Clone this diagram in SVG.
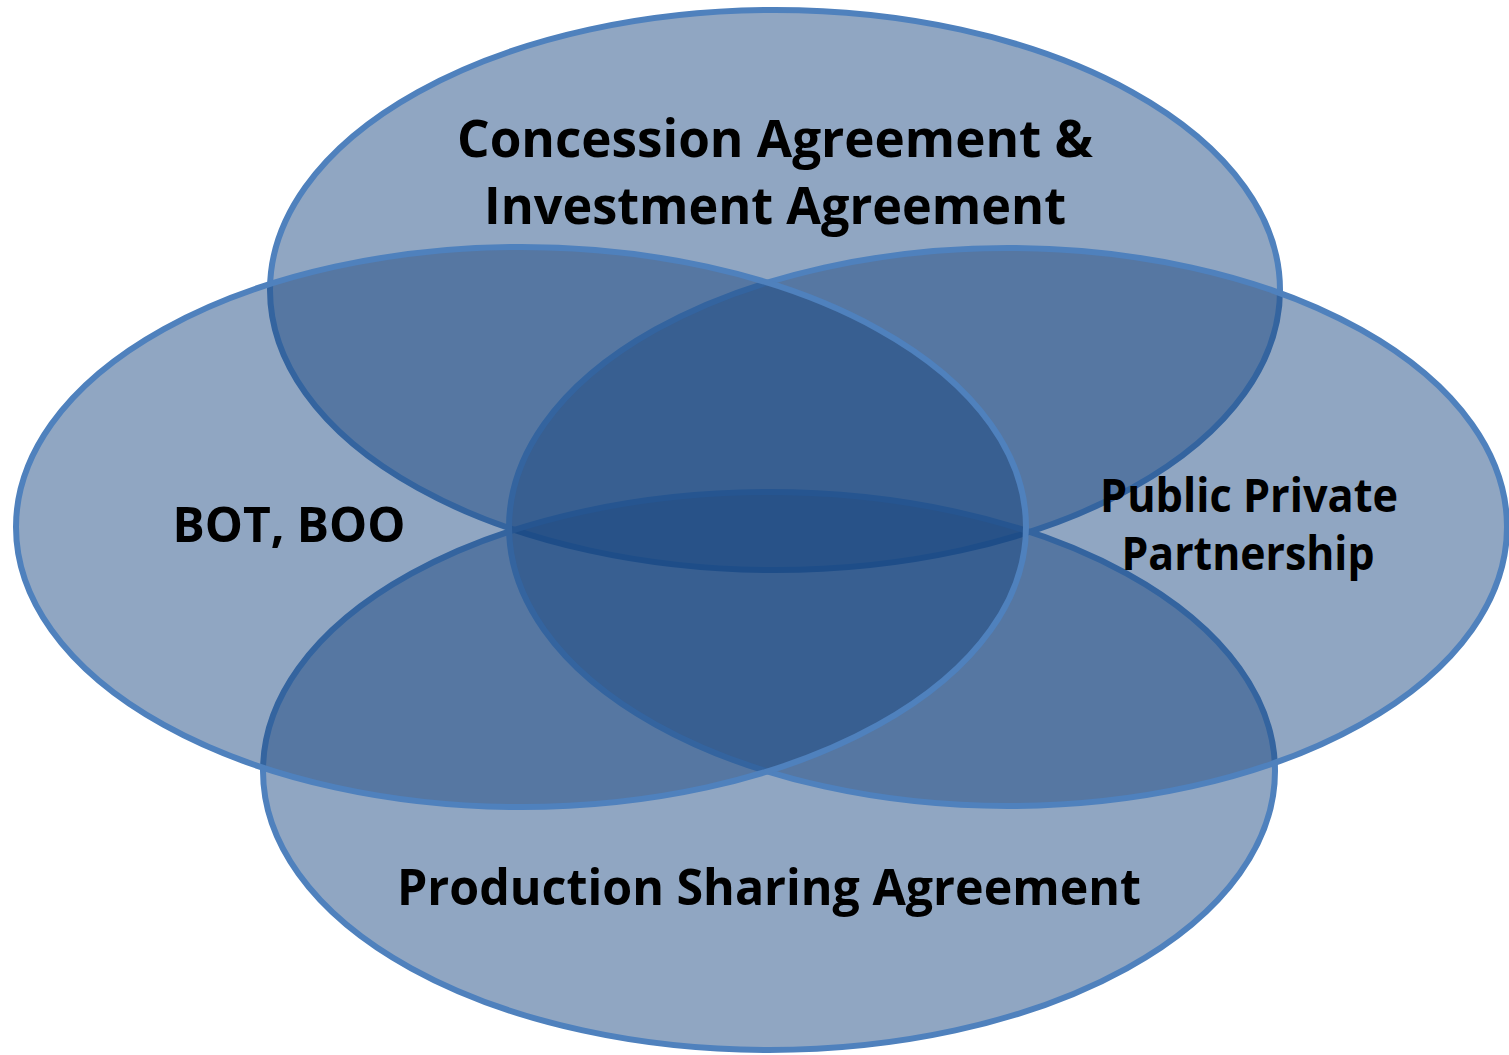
<svg xmlns="http://www.w3.org/2000/svg" width="1509" height="1055" viewBox="0 0 1509 1055">
<style>
.e{fill:rgb(23,68,128);fill-opacity:0.48;stroke:#4F81BD;stroke-width:6}
.t{font-family:"Open Sans","Noto Sans","Liberation Sans",sans-serif;font-weight:bold;fill:#000;text-anchor:middle}
</style>
<rect width="1509" height="1055" fill="#fff"/>
<g id="top"><ellipse class="e" cx="775" cy="290" rx="505" ry="280"/></g>
<g id="bottom"><ellipse class="e" cx="769" cy="771" rx="506" ry="279"/></g>
<g id="right"><ellipse class="e" cx="1008" cy="527" rx="499" ry="279"/></g>
<g id="left"><ellipse class="e" cx="521" cy="527" rx="505" ry="280"/></g>
<g id="labels">
<text class="t" x="775" y="157" font-size="52" textLength="636" lengthAdjust="spacingAndGlyphs">Concession Agreement &amp;</text>
<text class="t" x="775" y="224" font-size="52" textLength="582" lengthAdjust="spacingAndGlyphs">Investment Agreement</text>
<text class="t" x="289" y="542" font-size="49" textLength="233" lengthAdjust="spacingAndGlyphs">BOT, BOO</text>
<text class="t" x="1249" y="512" font-size="46" textLength="298" lengthAdjust="spacingAndGlyphs">Public Private</text>
<text class="t" x="1248" y="570" font-size="46" textLength="253" lengthAdjust="spacingAndGlyphs">Partnership</text>
<text class="t" x="769" y="905" font-size="50" textLength="744" lengthAdjust="spacingAndGlyphs">Production Sharing Agreement</text>
</g>
</svg>
